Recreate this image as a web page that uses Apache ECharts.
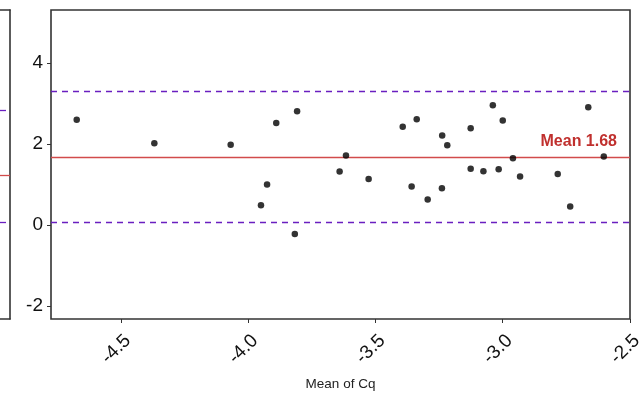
<!DOCTYPE html>
<html>
<head>
<meta charset="utf-8">
<script src="https://cdn.jsdelivr.net/npm/echarts@6/dist/echarts.min.js"></script>
<style>html,body{margin:0;padding:0;background:#fff}#c{width:641px;height:394px}</style>
</head>
<body>
<div id="c"></div>
<script>
// Main panel data (Bland-Altman: mean of Cq vs difference)
var meanCq = [-4.674,-4.369,-4.069,-3.950,-3.926,-3.890,-3.808,-3.817,-3.641,-3.616,-3.527,-3.393,-3.358,-3.338,-3.295,-3.238,-3.239,-3.218,-3.126,-3.126,-3.076,-3.039,-3.016,-3.000,-2.960,-2.932,-2.784,-2.735,-2.664,-2.603];
var diffCq = [2.60,2.02,1.98,0.49,1.00,2.52,2.81,-0.22,1.32,1.72,1.14,2.43,0.95,2.61,0.63,2.21,0.91,1.97,2.39,1.39,1.33,2.96,1.38,2.58,1.65,1.20,1.26,0.46,2.91,1.69];
var meanDiff = 1.68;
var upperLoA = 3.30;
var lowerLoA = 0.06;
// Partially visible left panel lines
var leftMean = 1.23;
var leftUpper = 2.84;
var leftLower = 0.06;
// Tick labels
var xTicks = [-4.5,-4.0,-3.5,-3.0,-2.5];
var yTicks = [-2,0,2,4];
var xLabel = 'Mean of Cq';

var points = meanCq.map(function(x,i){return [x, diffCq[i]];});
var FONT = 'Liberation Sans, Arial, sans-serif';
var chart = echarts.init(document.getElementById('c'), null, {renderer:'canvas'});
var dashStyle = {color:'#6a1fc0', type:[6,5], width:1.3};
var frameLine = {show:true, onZero:false, lineStyle:{color:'#333', width:1.6}};
chart.setOption({
  animation:false,
  grid:[
    {left:51, top:10, width:579, height:309, show:true, borderColor:'#333', borderWidth:1.6, backgroundColor:'transparent', outerBoundsMode:'none', containLabel:false},
    {left:0, top:10, width:10, height:309, show:false, outerBoundsMode:'none', containLabel:false}
  ],
  xAxis:[
    {gridIndex:0, type:'value', min:-4.775, max:-2.5,
     name:xLabel, nameLocation:'middle', nameGap:58,
     nameTextStyle:{fontFamily:FONT, fontSize:13.5, color:'#222'},
     axisLine:{show:false, onZero:false}, splitLine:{show:false},
     axisTick:{show:true, customValues:xTicks, length:4, lineStyle:{color:'#333', width:1}},
     axisLabel:{customValues:xTicks, rotate:45, margin:12, align:'right', verticalAlign:'top', overflow:'none', hideOverlap:false,
       fontFamily:FONT, fontSize:19, color:'#111',
       formatter:function(v){return v.toFixed(1);}}},
    {gridIndex:1, type:'value', min:0, max:1, position:'bottom', axisLine:frameLine,
     axisTick:{show:false}, axisLabel:{show:false}, splitLine:{show:false}},
    {gridIndex:1, type:'value', min:0, max:1, position:'top', axisLine:frameLine,
     axisTick:{show:false}, axisLabel:{show:false}, splitLine:{show:false}}
  ],
  yAxis:[
    {gridIndex:0, type:'value', min:-2.32, max:5.31,
     axisLine:{show:false, onZero:false}, splitLine:{show:false},
     axisTick:{show:true, customValues:yTicks, length:4, lineStyle:{color:'#333', width:1}},
     axisLabel:{customValues:yTicks, margin:8, fontFamily:FONT, fontSize:19, color:'#111'}},
    {gridIndex:1, type:'value', min:-2.32, max:5.31, position:'right', axisLine:frameLine,
     axisTick:{show:false}, axisLabel:{show:false}, splitLine:{show:false}}
  ],
  series:[
    {type:'scatter', xAxisIndex:0, yAxisIndex:0, data:points, symbolSize:6.5,
     itemStyle:{color:'#000'}, z:5,
     markLine:{silent:true, symbol:'none', animation:false,
       data:[
         {yAxis:upperLoA, lineStyle:dashStyle, label:{show:false}},
         {yAxis:lowerLoA, lineStyle:dashStyle, label:{show:false}},
         {yAxis:meanDiff, lineStyle:{color:'#d24b4b', type:'solid', width:1.3},
          label:{show:true, position:'insideEndTop', distance:[13,7],
            formatter:'Mean ' + meanDiff.toFixed(2), fontFamily:FONT, fontSize:16, fontWeight:'bold', color:'#c0302e'}}
       ]}},
    {type:'scatter', xAxisIndex:1, yAxisIndex:1, data:[],
     markLine:{silent:true, symbol:'none', animation:false,
       data:[
         {yAxis:leftUpper, lineStyle:dashStyle, label:{show:false}},
         {yAxis:leftLower, lineStyle:dashStyle, label:{show:false}},
         {yAxis:leftMean, lineStyle:{color:'#d24b4b', type:'solid', width:1.3}, label:{show:false}}
       ]}}
  ]
});
</script>
</body>
</html>
